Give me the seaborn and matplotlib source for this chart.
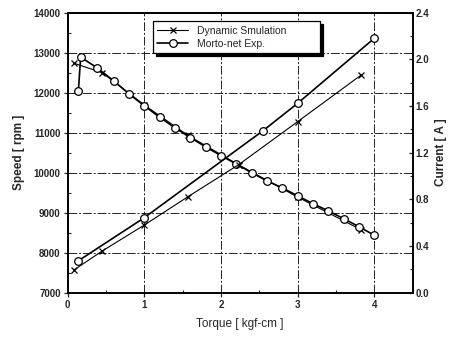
import matplotlib
matplotlib.use("Agg")
import matplotlib.pyplot as plt
import seaborn as sns
from matplotlib.ticker import MultipleLocator

# Measured speed (Morto-net Exp.)
exp_torque = [0.14, 0.17, 0.38, 0.6, 0.8, 1.0, 1.2, 1.4, 1.6, 1.8, 2.0, 2.2,
              2.4, 2.6, 2.8, 3.0, 3.2, 3.4, 3.6, 3.8, 4.0]
exp_speed = [12050, 12885, 12625, 12295, 11970, 11670, 11385, 11120, 10875,
             10645, 10425, 10215, 10000, 9795, 9620, 9420, 9225, 9045, 8850,
             8650, 8435]

# Measured current
exp_cur_torque = [0.14, 1.0, 2.55, 3.0, 4.0]
exp_current = [0.274, 0.643, 1.389, 1.623, 2.18]

# Dynamic simulation
sim_torque = [0.08, 0.45, 1.0, 1.57, 2.23, 3.0, 3.83]
sim_speed = [12735, 12500, 11690, 10930, 10195, 9390, 8570]
sim_current = [0.194, 0.357, 0.58, 0.823, 1.097, 1.466, 1.866]

sns.set_style("ticks")
plt.rcParams["font.family"] = ["Liberation Sans", "DejaVu Sans"]

fig = plt.figure(figsize=(4.54, 3.4), dpi=100)
ax = fig.add_axes([0.149, 0.139, 0.760, 0.824])
ax2 = ax.twinx()

sim_style = dict(color="black", lw=0.8, marker="x", markersize=5, mew=0.9,
                 markeredgecolor="black")
exp_style = dict(color="black", lw=1.2, marker="o", markersize=5.5,
                 markerfacecolor="white", markeredgecolor="black", mew=0.9)

# speed curves
sns.lineplot(x=sim_torque, y=sim_speed, ax=ax, sort=False, estimator=None,
             label="Dynamic Smulation", legend=False, **sim_style)
sns.lineplot(x=exp_torque, y=exp_speed, ax=ax, sort=False, estimator=None,
             label="Morto-net Exp.", legend=False, **exp_style)

# current curves
sns.lineplot(x=sim_torque, y=sim_current, ax=ax2, sort=False, estimator=None,
             legend=False, **sim_style)
sns.lineplot(x=exp_cur_torque, y=exp_current, ax=ax2, sort=False,
             estimator=None, legend=False, **exp_style)

ax.set_xlim(0, 4.5)
ax.set_ylim(7000, 14000)
ax2.set_ylim(0, 2.4)

ax.set_xticks([0, 1, 2, 3, 4])
ax.set_yticks(range(7000, 14001, 1000))
ax.xaxis.set_minor_locator(MultipleLocator(0.5))
ax.yaxis.set_minor_locator(MultipleLocator(500))
ax2.set_yticks([0.0, 0.4, 0.8, 1.2, 1.6, 2.0, 2.4])
ax2.yaxis.set_minor_locator(MultipleLocator(0.2))
ax2.set_yticklabels(["0.0", "0.4", "0.8", "1.2", "1.6", "2.0", "2.4"])

ax.grid(True, which="major", color="#222222", lw=0.7,
        linestyle=(0, (9, 2, 2, 2)))
ax.set_axisbelow(True)

ax.tick_params(axis="both", which="major", direction="out", length=3,
               width=0.9, labelsize=7, pad=2)
ax.tick_params(axis="both", which="minor", direction="in", length=2, width=0.8)
ax2.tick_params(axis="y", which="major", direction="in", length=3, width=0.9,
                labelsize=7, pad=2)
ax2.tick_params(axis="y", which="minor", direction="in", length=2, width=0.8)

for a in (ax, ax2):
    for s in a.spines.values():
        s.set_linewidth(1.2)
        s.set_color("black")

for lab in ax.get_xticklabels() + ax.get_yticklabels() + ax2.get_yticklabels():
    lab.set_fontweight("bold")

ax.set_xlabel("Torque [ kgf-cm ]", fontsize=8.5, labelpad=6)
ax.set_ylabel("Speed [ rpm ]", fontsize=8.5, fontweight="bold", labelpad=6)
ax2.set_ylabel("Current [ A ]", fontsize=8.5, fontweight="bold", labelpad=4)

handles, labels = ax.get_legend_handles_labels()
leg = ax.legend(handles, labels, bbox_to_anchor=(0.247, 0.856, 0.484, 0.144),
                mode="expand", loc="lower left", fontsize=7.5,
                frameon=True, fancybox=False, edgecolor="black",
                shadow={"color": "black", "alpha": 1}, handlelength=3,
                borderaxespad=0, labelspacing=0.3, borderpad=0.4)
leg.get_frame().set_linewidth(0.9)
leg.get_frame().set_alpha(1)

fig.savefig("out.png", dpi=100)
